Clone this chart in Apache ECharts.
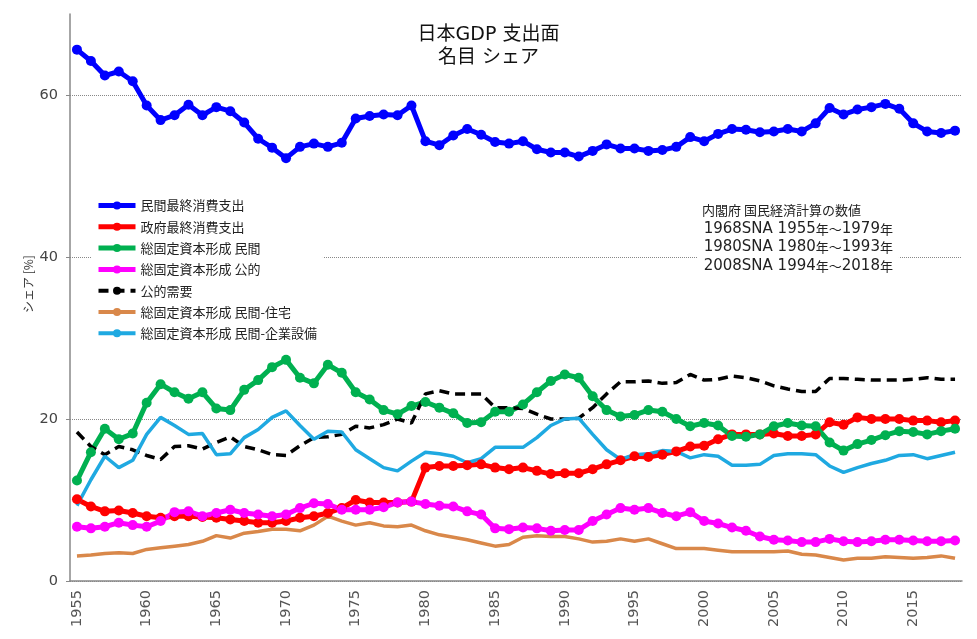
<!DOCTYPE html>
<html>
<head>
<meta charset="UTF-8">
<title>日本GDP 支出面 名目シェア</title>
<script src="https://cdn.jsdelivr.net/npm/echarts@6/dist/echarts.min.js"></script>
<style>
  html, body { margin: 0; padding: 0; background: #fff; }
  #main { width: 977px; height: 639px; }
</style>
</head>
<body>
<div id="main"></div>
<script>
// 年
var years = [
  '1955','1956','1957','1958','1959','1960','1961','1962','1963','1964',
  '1965','1966','1967','1968','1969','1970','1971','1972','1973','1974',
  '1975','1976','1977','1978','1979','1980','1981','1982','1983','1984',
  '1985','1986','1987','1988','1989','1990','1991','1992','1993','1994',
  '1995','1996','1997','1998','1999','2000','2001','2002','2003','2004',
  '2005','2006','2007','2008','2009','2010','2011','2012','2013','2014',
  '2015','2016','2017','2018'
];

// 民間最終消費支出
var privateConsumption = [
  65.6, 64.2, 62.4, 62.9, 61.7, 58.7, 56.9, 57.5, 58.8, 57.5,
  58.5, 58.0, 56.6, 54.6, 53.5, 52.2, 53.6, 54.0, 53.6, 54.1,
  57.1, 57.4, 57.6, 57.5, 58.7, 54.3, 53.8, 55.0, 55.8, 55.1,
  54.2, 54.0, 54.3, 53.3, 52.9, 52.9, 52.4, 53.1, 53.9, 53.4,
  53.4, 53.1, 53.2, 53.6, 54.8, 54.3, 55.2, 55.8, 55.7, 55.4,
  55.5, 55.8, 55.5, 56.5, 58.4, 57.6, 58.2, 58.5, 58.9, 58.3,
  56.5, 55.5, 55.3, 55.6
];

// 政府最終消費支出
var govConsumption = [
  10.1, 9.2, 8.6, 8.7, 8.4, 8.0, 7.8, 8.0, 8.0, 7.9,
  7.8, 7.6, 7.4, 7.2, 7.2, 7.4, 7.8, 8.0, 8.4, 9.0,
  10.0, 9.7, 9.7, 9.7, 9.8, 14.0, 14.2, 14.2, 14.3, 14.4,
  14.0, 13.8, 14.0, 13.6, 13.2, 13.3, 13.3, 13.8, 14.4, 14.9,
  15.4, 15.3, 15.6, 16.0, 16.6, 16.7, 17.5, 18.1, 18.1, 18.1,
  18.2, 17.9, 17.9, 18.1, 19.6, 19.3, 20.2, 20.0, 20.0, 20.0,
  19.8, 19.8, 19.6, 19.8
];

// 総固定資本形成 民間
var privateInvestment = [
  12.4, 15.9, 18.8, 17.5, 18.2, 22.0, 24.3, 23.3, 22.5, 23.3,
  21.3, 21.1, 23.6, 24.8, 26.4, 27.3, 25.1, 24.4, 26.7, 25.7,
  23.3, 22.4, 21.1, 20.6, 21.6, 22.1, 21.4, 20.7, 19.5, 19.6,
  20.9, 20.9, 21.8, 23.3, 24.7, 25.5, 25.1, 22.8, 21.1, 20.3,
  20.5, 21.1, 20.9, 20.0, 19.1, 19.5, 19.2, 17.9, 17.8, 18.1,
  19.1, 19.5, 19.2, 19.1, 17.1, 16.1, 16.9, 17.4, 18.0, 18.5,
  18.4, 18.1, 18.5, 18.8
];

// 総固定資本形成 公的
var publicInvestment = [
  6.7, 6.5, 6.7, 7.2, 6.9, 6.7, 7.4, 8.5, 8.6, 8.0,
  8.4, 8.8, 8.4, 8.2, 8.0, 8.2, 9.0, 9.6, 9.5, 8.8,
  8.8, 8.8, 9.1, 9.7, 9.8, 9.5, 9.3, 9.2, 8.6, 8.2,
  6.5, 6.4, 6.6, 6.5, 6.2, 6.3, 6.3, 7.4, 8.2, 9.0,
  8.8, 9.0, 8.4, 8.0, 8.5, 7.4, 7.1, 6.6, 6.2, 5.5,
  5.1, 5.0, 4.8, 4.8, 5.2, 4.9, 4.8, 4.9, 5.1, 5.1,
  5.0, 4.9, 4.9, 5.0
];

// 公的需要
var publicDemand = [
  18.4, 16.6, 15.6, 16.6, 16.2, 15.5, 15.0, 16.6, 16.7, 16.3,
  17.1, 17.8, 16.6, 16.2, 15.6, 15.5, 16.7, 17.7, 17.8, 18.1,
  19.1, 18.9, 19.3, 20.0, 19.5, 23.1, 23.5, 23.1, 23.1, 23.1,
  21.4, 21.4, 21.3, 20.6, 20.0, 20.0, 20.1, 21.4, 23.1, 24.6,
  24.6, 24.7, 24.4, 24.5, 25.5, 24.8, 24.9, 25.3, 25.1, 24.7,
  24.1, 23.7, 23.4, 23.4, 25.0, 25.0, 24.9, 24.8, 24.8, 24.8,
  24.9, 25.1, 24.9, 24.9
];

// 総固定資本形成 民間-住宅
var housing = [
  3.1, 3.2, 3.4, 3.5, 3.4, 3.9, 4.1, 4.3, 4.5, 4.9,
  5.6, 5.3, 5.9, 6.1, 6.4, 6.4, 6.2, 6.9, 8.0, 7.4,
  6.9, 7.2, 6.8, 6.7, 6.9, 6.2, 5.7, 5.4, 5.1, 4.7,
  4.3, 4.5, 5.4, 5.6, 5.5, 5.5, 5.2, 4.8, 4.9, 5.2,
  4.9, 5.2, 4.6, 4.0, 4.0, 4.0, 3.8, 3.6, 3.6, 3.6,
  3.6, 3.7, 3.3, 3.2, 2.9, 2.6, 2.8, 2.8, 3.0, 2.9,
  2.8, 2.9, 3.1, 2.8
];

// 総固定資本形成 民間-企業設備
var business = [
  9.3, 12.5, 15.4, 14.0, 14.9, 18.1, 20.2, 19.2, 18.1, 18.2,
  15.6, 15.7, 17.7, 18.7, 20.2, 21.0, 19.2, 17.5, 18.5, 18.4,
  16.2, 15.1, 14.0, 13.6, 14.8, 15.9, 15.7, 15.4, 14.6, 15.1,
  16.5, 16.5, 16.5, 17.7, 19.2, 20.0, 20.1, 18.1, 16.2, 15.0,
  15.6, 15.7, 16.1, 16.0, 15.2, 15.6, 15.4, 14.3, 14.3, 14.4,
  15.5, 15.7, 15.7, 15.6, 14.2, 13.4, 14.0, 14.5, 14.9, 15.5,
  15.6, 15.1, 15.5, 15.9
];

var yTicks = [0, 20, 40, 60];

var FONT = '"Noto Sans CJK JP", "Noto Sans", sans-serif';
var WIDE = '"DejaVu Sans", "Noto Sans CJK JP", sans-serif';

// 注記 (rich text)
var noteText = [
  '{c|内閣府 国民経済計算の数値}',
  '{s| }{a|1968SNA 1955}{c|年～}{a|1979}{c|年}',
  '{s| }{a|1980SNA 1980}{c|年～}{a|1993}{c|年}',
  '{s| }{a|2008SNA 1994}{c|年～}{a|2018}{c|年}'
].join('\n');

function dotLine(name, data, color) {
  return {
    name: name, type: 'line', data: data,
    symbol: 'circle', symbolSize: 10, showSymbol: true, showAllSymbol: true,
    lineStyle: { color: color, width: 5 },
    itemStyle: { color: color },
    emphasis: { disabled: true }
  };
}
function plainLine(name, data, color, dashed) {
  return {
    name: name, type: 'line', data: data,
    symbol: 'none',
    lineStyle: { color: color, width: 3.5, type: dashed ? [10, 6] : 'solid' },
    itemStyle: { color: color },
    emphasis: { disabled: true }
  };
}

var myChart = echarts.init(document.getElementById('main'));

var option = {
  animation: false,
  backgroundColor: '#fff',
  textStyle: { fontFamily: FONT },
  title: {
    text: '日本GDP 支出面\n名目 シェア',
    left: 'center',
    top: 19,
    textStyle: { fontSize: 19, fontWeight: 'normal', color: '#111', lineHeight: 23, fontFamily: WIDE }
  },
  legend: {
    orient: 'vertical',
    left: 92,
    top: 196,
    itemWidth: 37,
    itemHeight: 10,
    itemGap: 8.3,
    padding: [3, 6, 3, 4],
    backgroundColor: '#fff',
    textStyle: { fontSize: 13, color: '#222', fontFamily: FONT },
    data: [
      { name: '民間最終消費支出', lineStyle: { width: 5 } },
      { name: '政府最終消費支出', lineStyle: { width: 5 } },
      { name: '総固定資本形成 民間', lineStyle: { width: 5 } },
      { name: '総固定資本形成 公的', lineStyle: { width: 5 } },
      { name: '公的需要', lineStyle: { width: 4 } },
      { name: '総固定資本形成 民間-住宅', lineStyle: { width: 4 } },
      { name: '総固定資本形成 民間-企業設備', lineStyle: { width: 4 } }
    ]
  },
  graphic: [
    {
      type: 'text', left: 698, top: 199, z: 100,
      style: {
        text: noteText, fill: '#222',
        backgroundColor: '#fff', padding: [2, 6, 2, 4],
        rich: {
          c: { fontSize: 13, fontFamily: FONT, color: '#222', lineHeight: 18.5 },
          a: { fontSize: 15, fontFamily: WIDE, color: '#222', lineHeight: 18.5 },
          s: { fontSize: 6, lineHeight: 18.5 }
        }
      }
    },
    {
      type: 'text', x: 28, y: 284, rotation: Math.PI / 2, z: 100,
      style: {
        text: 'シェア [%]', font: '12px ' + FONT, fill: '#333',
        align: 'center', verticalAlign: 'middle'
      }
    }
  ],
  grid: { left: 70, right: 15, top: 14, bottom: 58, containLabel: false },
  xAxis: {
    type: 'category',
    data: years,
    boundaryGap: true,
    axisLine: { lineStyle: { color: '#888', width: 1.5 } },
    axisTick: { interval: 1, length: 6, lineStyle: { color: '#888' } },
    axisLabel: { interval: 4, rotate: 90, color: '#555', fontSize: 14.5, margin: 9, fontFamily: WIDE },
    splitLine: { show: false }
  },
  yAxis: {
    type: 'value',
    min: 0, max: 70, interval: 20,
    axisLine: { show: true, lineStyle: { color: '#888', width: 1.5 } },
    axisTick: { show: true, length: 4, lineStyle: { color: '#888' } },
    axisLabel: {
      color: '#444', fontSize: 14.5, margin: 12, showMaxLabel: false, fontFamily: WIDE,
      formatter: function (v) { return yTicks.indexOf(v) >= 0 ? String(v) : ''; }
    },
    splitLine: { show: true, showMaxLine: false, lineStyle: { color: '#888', type: 'dotted', width: 1 } }
  },
  series: [
    dotLine('民間最終消費支出', privateConsumption, '#0000ff'),
    dotLine('政府最終消費支出', govConsumption, '#ff0000'),
    dotLine('総固定資本形成 民間', privateInvestment, '#00b050'),
    dotLine('総固定資本形成 公的', publicInvestment, '#ff00ff'),
    plainLine('公的需要', publicDemand, '#000000', true),
    plainLine('総固定資本形成 民間-住宅', housing, '#d9884a', false),
    plainLine('総固定資本形成 民間-企業設備', business, '#1fa9e1', false)
  ]
};

myChart.setOption(option);
</script>
</body>
</html>
